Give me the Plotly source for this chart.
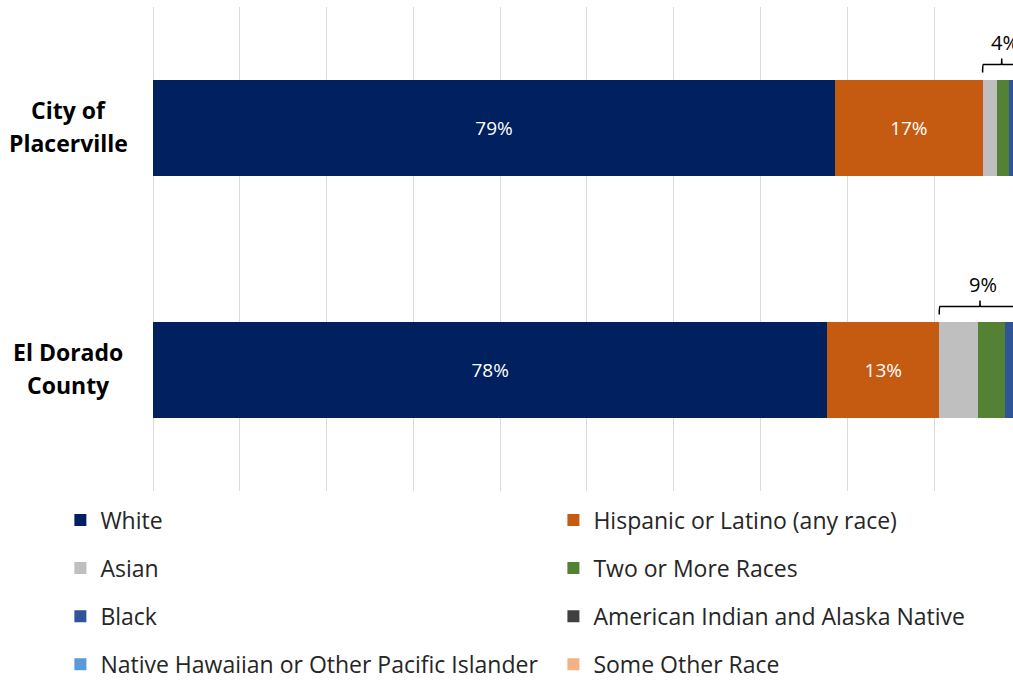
import plotly.graph_objects as go

# Population share by race / ethnicity (percent)
regions = ["City of Placerville", "El Dorado County"]
region_lines = [["City of", "Placerville"], ["El Dorado", "County"]]
groups = [
    "White",
    "Hispanic or Latino (any race)",
    "Asian",
    "Two or More Races",
    "Black",
    "American Indian and Alaska Native",
    "Native Hawaiian or Other Pacific Islander",
    "Some Other Race",
]
white = [78.6, 77.7]
hispanic = [17.0, 12.9]
asian = [1.6, 4.5]
two_or_more = [1.4, 3.1]
black = [0.6, 0.9]
am_indian = [0.4, 0.5]
pacific = [0.2, 0.2]
other = [0.2, 0.2]

series = [white, hispanic, asian, two_or_more, black, am_indian, pacific, other]
colors = ["#002060", "#C55A11", "#BFBFBF", "#548235",
          "#2F5597", "#404040", "#5B9BD5", "#F4B183"]
labelled = {"White", "Hispanic or Latino (any race)"}

FONT = "'Open Sans', Lato, sans-serif"
FIG_W, FIG_H = 1013, 681
ypos = [len(regions) - 1 - i for i in range(len(regions))]  # top to bottom
BAR_W = 0.4

fig = go.Figure()
for k, (name, vals, col) in enumerate(zip(groups, series, colors)):
    show_text = name in labelled
    fig.add_trace(go.Bar(
        name=name,
        y=ypos,
        x=vals,
        orientation="h",
        width=BAR_W,
        marker=dict(color=col, line=dict(width=0)),
        text=[f"{round(v)}%" for v in vals] if show_text else None,
        textposition="inside" if show_text else "none",
        insidetextanchor="middle",
        textfont=dict(color="white", size=19, family=FONT),
        constraintext="none",
        hoverinfo="skip",
        legend="legend" if k % 2 == 0 else "legend2",
        legendgroup=f"g{k}",
    ))

# Braces grouping the smaller categories, with their combined share
shapes = []
annotations = []
for i, region in enumerate(regions):
    start = white[i] + hispanic[i]
    end = start + sum(s[i] for s in series[2:])
    rest = end - start
    mid = (start + end) / 2
    r = 0.06
    top = ypos[i] + BAR_W / 2
    path = (f"M{start},7 Q{start},15 {start + r},15 L{mid - r},15 "
            f"Q{mid},15 {mid},21 Q{mid},15 {mid + r},15 "
            f"L{end - r},15 Q{end},15 {end},7")
    shapes.append(dict(
        type="path", path=path, xref="x", yref="y",
        ysizemode="pixel", yanchor=top,
        line=dict(color="black", width=1.5),
    ))
    annotations.append(dict(
        x=mid, y=top, xref="x", yref="y", yshift=37, xshift=3,
        text=f"{round(rest)}%", showarrow=False,
        xanchor="center", yanchor="middle",
        font=dict(size=20, color="black", family=FONT),
    ))
    # two-line category label, centred to the left of the bar
    for j, line in enumerate(region_lines[i]):
        annotations.append(dict(
            x=0, y=ypos[i], xref="paper", yref="y",
            xshift=-85, yshift=18.5 - 33 * j,
            text=f"<b>{line}</b>", showarrow=False,
            xanchor="center", yanchor="middle",
            font=dict(size=23, color="black", family=FONT),
        ))

legend_common = dict(
    orientation="v",
    traceorder="grouped",
    tracegroupgap=15.2,
    font=dict(size=23, color="#262626", family=FONT),
    bgcolor="rgba(0,0,0,0)",
    yref="container",
    yanchor="top",
    y=1 - 498.5 / FIG_H,
    xanchor="left",
)

fig.update_layout(
    barmode="stack",
    width=FIG_W,
    height=FIG_H,
    margin=dict(l=153, r=0, t=7, b=190),
    paper_bgcolor="white",
    plot_bgcolor="white",
    font=dict(family=FONT),
    xaxis=dict(
        range=[0, 99.1],
        dtick=10,
        showticklabels=False,
        showgrid=True,
        gridcolor="#D9D9D9",
        gridwidth=1,
        zeroline=True,
        zerolinecolor="#D9D9D9",
        zerolinewidth=1,
        showline=False,
        fixedrange=True,
    ),
    yaxis=dict(
        range=[-0.5, len(regions) - 0.5],
        showticklabels=False,
        showgrid=False,
        zeroline=False,
        showline=False,
        fixedrange=True,
    ),
    legend=dict(legend_common, x=-0.1077),
    legend2=dict(legend_common, x=0.4656),
    shapes=shapes,
    annotations=annotations,
    showlegend=True,
)

fig.write_html("out.html")
